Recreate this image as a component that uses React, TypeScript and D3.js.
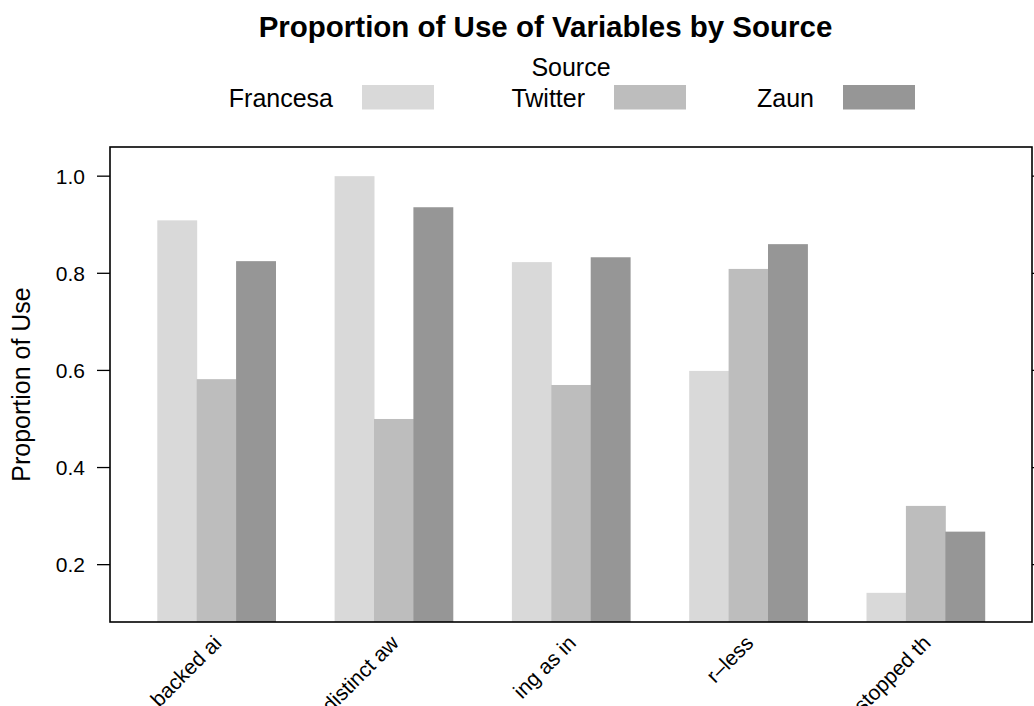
import React, { useEffect, useRef } from 'react';
import * as d3 from 'd3';

// values
const categories = ['backed ai', 'distinct aw', 'ing as in', 'r–less', 'stopped th'];
const sources = ['Francesa', 'Twitter', 'Zaun'];
const francesa = [0.909, 1.0, 0.823, 0.599, 0.142];
const twitter = [0.582, 0.5, 0.57, 0.809, 0.321];
const zaun = [0.825, 0.936, 0.833, 0.86, 0.268];
const yTicks = [0.2, 0.4, 0.6, 0.8, 1.0];
const fills = ['#d9d9d9', '#bdbdbd', '#969696'];

const W = 1034;
const H = 706;
const FONT = '"Liberation Sans", Arial, Helvetica, sans-serif';

const App: React.FC = () => {
  const ref = useRef<SVGSVGElement | null>(null);

  useEffect(() => {
    if (!ref.current) return;
    const svg = d3.select(ref.current);
    svg.selectAll('*').remove();

    const panel = { left: 110, right: 1032, top: 147, bottom: 622 };
    const series = [francesa, twitter, zaun];

    // lattice-style padding of 7% on the data range
    const all = series.flat();
    const [lo, hi] = d3.extent(all) as [number, number];
    const pad = (hi - lo) * 0.07;

    const y = d3.scaleLinear().domain([lo - pad, hi + pad]).range([panel.bottom, panel.top]);
    const x = d3.scaleBand<string>()
      .domain(categories)
      .range([panel.left, panel.right])
      .paddingInner(1 / 3)
      .paddingOuter(0.2667);
    const xs = d3.scaleBand<string>().domain(sources).range([0, x.bandwidth()]);
    const color = d3.scaleOrdinal<string, string>().domain(sources).range(fills);

    const rows = categories.flatMap((c, i) =>
      sources.map((s, j) => ({ cat: c, src: s, value: series[j][i] }))
    );

    // bars
    svg.append('g')
      .selectAll('rect')
      .data(rows)
      .enter().append('rect')
      .attr('x', d => (x(d.cat) ?? 0) + (xs(d.src) ?? 0))
      .attr('width', xs.bandwidth() + 0.5)
      .attr('y', d => y(d.value))
      .attr('height', d => panel.bottom - y(d.value))
      .attr('fill', d => color(d.src));

    // panel border
    svg.append('rect')
      .attr('x', panel.left)
      .attr('y', panel.top)
      .attr('width', panel.right - panel.left)
      .attr('height', panel.bottom - panel.top)
      .attr('fill', 'none')
      .attr('stroke', '#000')
      .attr('stroke-width', 1.6);

    // left axis
    const left = svg.append('g');
    left.selectAll('line')
      .data(yTicks)
      .enter().append('line')
      .attr('x1', panel.left - 13)
      .attr('x2', panel.left)
      .attr('y1', d => y(d))
      .attr('y2', d => y(d))
      .attr('stroke', '#000')
      .attr('stroke-width', 1.3);
    left.selectAll('text')
      .data(yTicks)
      .enter().append('text')
      .attr('x', panel.left - 25)
      .attr('y', d => y(d))
      .attr('dy', '0.36em')
      .attr('text-anchor', 'end')
      .style('font-family', FONT)
      .style('font-size', '21px')
      .text(d => d.toFixed(1));

    // right ticks (cut by the edge)
    svg.append('g').selectAll('line')
      .data(yTicks)
      .enter().append('line')
      .attr('x1', panel.right)
      .attr('x2', panel.right + 13)
      .attr('y1', d => y(d))
      .attr('y2', d => y(d))
      .attr('stroke', '#000')
      .attr('stroke-width', 1.3);

    // category labels, rotated
    svg.append('g').selectAll('text')
      .data(categories)
      .enter().append('text')
      .attr('transform', d => `translate(${(x(d) ?? 0) + x.bandwidth() / 2 + 1},${panel.bottom + 17}) rotate(-45)`)
      .attr('dy', '0.36em')
      .attr('text-anchor', 'end')
      .style('font-family', FONT)
      .style('font-size', '21px')
      .text(d => d);

    // y label
    svg.append('text')
      .attr('transform', `translate(30,${(panel.top + panel.bottom) / 2}) rotate(-90)`)
      .attr('text-anchor', 'middle')
      .style('font-family', FONT)
      .style('font-size', '25px')
      .text('Proportion of Use');

    // title
    svg.append('text')
      .attr('x', 545.5)
      .attr('y', 37)
      .attr('text-anchor', 'middle')
      .style('font-family', FONT)
      .style('font-size', '29.5px')
      .style('font-weight', 'bold')
      .text('Proportion of Use of Variables by Source');

    // legend
    svg.append('text')
      .attr('x', 571)
      .attr('y', 76)
      .attr('text-anchor', 'middle')
      .style('font-family', FONT)
      .style('font-size', '25px')
      .text('Source');

    const legendRectX = [362, 614, 843];
    const lg = svg.append('g').selectAll('g')
      .data(sources)
      .enter().append('g');
    lg.append('rect')
      .attr('x', (_, i) => legendRectX[i])
      .attr('y', 85)
      .attr('width', 72)
      .attr('height', 24.5)
      .attr('fill', d => color(d));
    lg.append('text')
      .attr('x', (_, i) => legendRectX[i] - 29)
      .attr('y', 107)
      .attr('text-anchor', 'end')
      .style('font-family', FONT)
      .style('font-size', '25px')
      .text(d => d);
  }, []);

  return (
    <svg
      ref={ref}
      width={W}
      height={H}
      style={{ position: 'absolute', left: 0, top: 0, background: '#fff' }}
    />
  );
};

export default App;
